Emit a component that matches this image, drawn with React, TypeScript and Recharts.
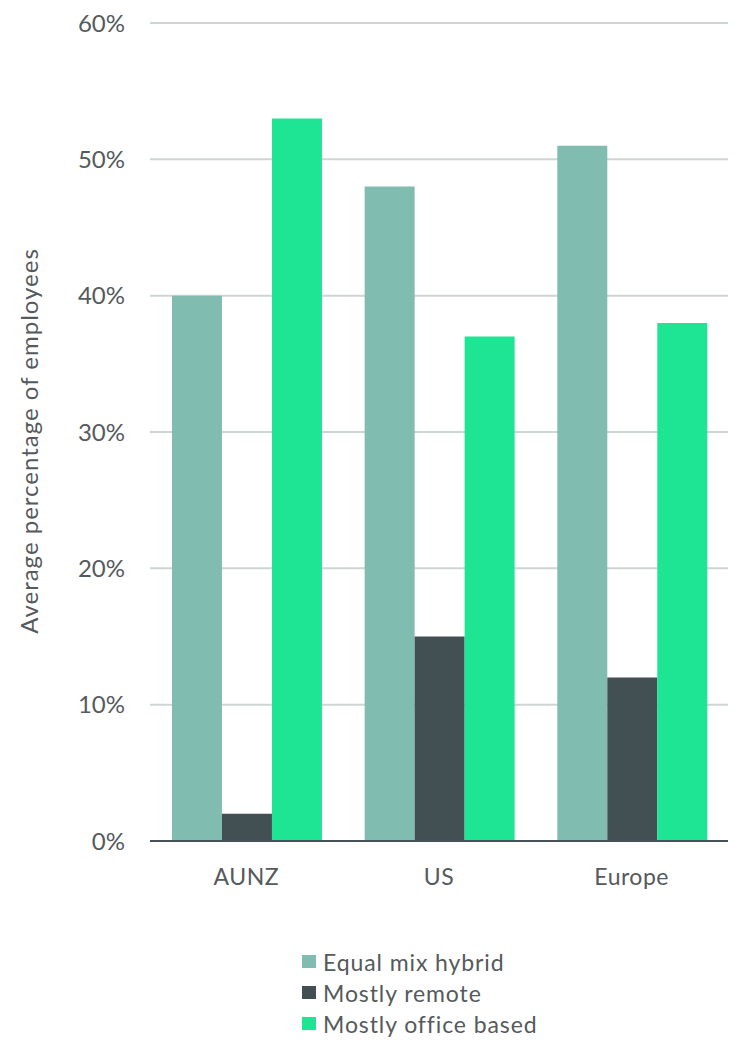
import React from "react";
import {
  BarChart,
  Bar,
  XAxis,
  YAxis,
  CartesianGrid,
} from "recharts";

const regions = ["AUNZ", "US", "Europe"];
const equalMixHybrid = [40, 48, 51];
const mostlyRemote = [2, 15, 12];
const mostlyOffice = [53, 37, 38];
const yTicks = [0, 10, 20, 30, 40, 50, 60];

const series = [
  { key: "hybrid", name: "Equal mix hybrid", color: "#80bcb0" },
  { key: "remote", name: "Mostly remote", color: "#424f53" },
  { key: "office", name: "Mostly office based", color: "#1de594" },
];

const data = regions.map((region, i) => ({
  region,
  hybrid: equalMixHybrid[i],
  remote: mostlyRemote[i],
  office: mostlyOffice[i],
}));

const FONT = "Lato, 'Open Sans', sans-serif";
const TEXT = "#555a5c";

// legend drawn outside the chart so it doesn't shrink the plot area
function LegendList() {
  return (
    <div
      style={{
        position: "absolute",
        left: 302,
        top: 946,
        fontFamily: FONT,
        fontSize: 23,
        letterSpacing: 0.9,
        color: TEXT,
      }}
    >
      {series.map((s) => (
        <div
          key={s.key}
          style={{ display: "flex", alignItems: "center", height: 31 }}
        >
          <span
            style={{
              width: 14,
              height: 13,
              background: s.color,
              marginRight: 7,
              display: "inline-block",
            }}
          />
          <span>{s.name}</span>
        </div>
      ))}
    </div>
  );
}

export default function App() {
  return (
    <div
      style={{
        position: "absolute",
        left: 0,
        top: 0,
        width: 740,
        height: 1058,
        background: "#fff",
      }}
    >
      <BarChart
        width={740}
        height={1058}
        data={data}
        margin={{ top: 23, right: 12, left: 0, bottom: 187 }}
        barCategoryGap="11.4%"
        barGap={0}
      >
        <CartesianGrid
          vertical={false}
          stroke="#cfd4d4"
          strokeWidth={2}
        />
        <XAxis
          dataKey="region"
          height={30}
          axisLine={{ stroke: "#46525a", strokeWidth: 2 }}
          tickLine={false}
          tickSize={0}
          tickMargin={28}
          tick={{ fill: TEXT, fontSize: 23, fontFamily: FONT, letterSpacing: 0.5 }}
        />
        <YAxis
          width={150}
          domain={[0, 60]}
          ticks={yTicks}
          axisLine={false}
          tickLine={false}
          tickSize={0}
          tickMargin={25}
          tickFormatter={(v) => `${v}%`}
          tick={{ fill: TEXT, fontSize: 24, fontFamily: FONT }}
          label={({ viewBox }: any) => {
            const cx = viewBox.x + 32;
            const cy = viewBox.y + viewBox.height / 2 + 9;
            return (
              <text
                x={cx}
                y={cy}
                transform={`rotate(-90, ${cx}, ${cy})`}
                textAnchor="middle"
                dominantBaseline="middle"
                fill={TEXT}
                fontSize={24}
                letterSpacing={1}
                fontFamily={FONT}
              >
                Average percentage of employees
              </text>
            );
          }}
        />
        {series.map((s) => (
          <Bar
            key={s.key}
            dataKey={s.key}
            name={s.name}
            fill={s.color}
            isAnimationActive={false}
          />
        ))}
      </BarChart>
      <LegendList />
    </div>
  );
}
